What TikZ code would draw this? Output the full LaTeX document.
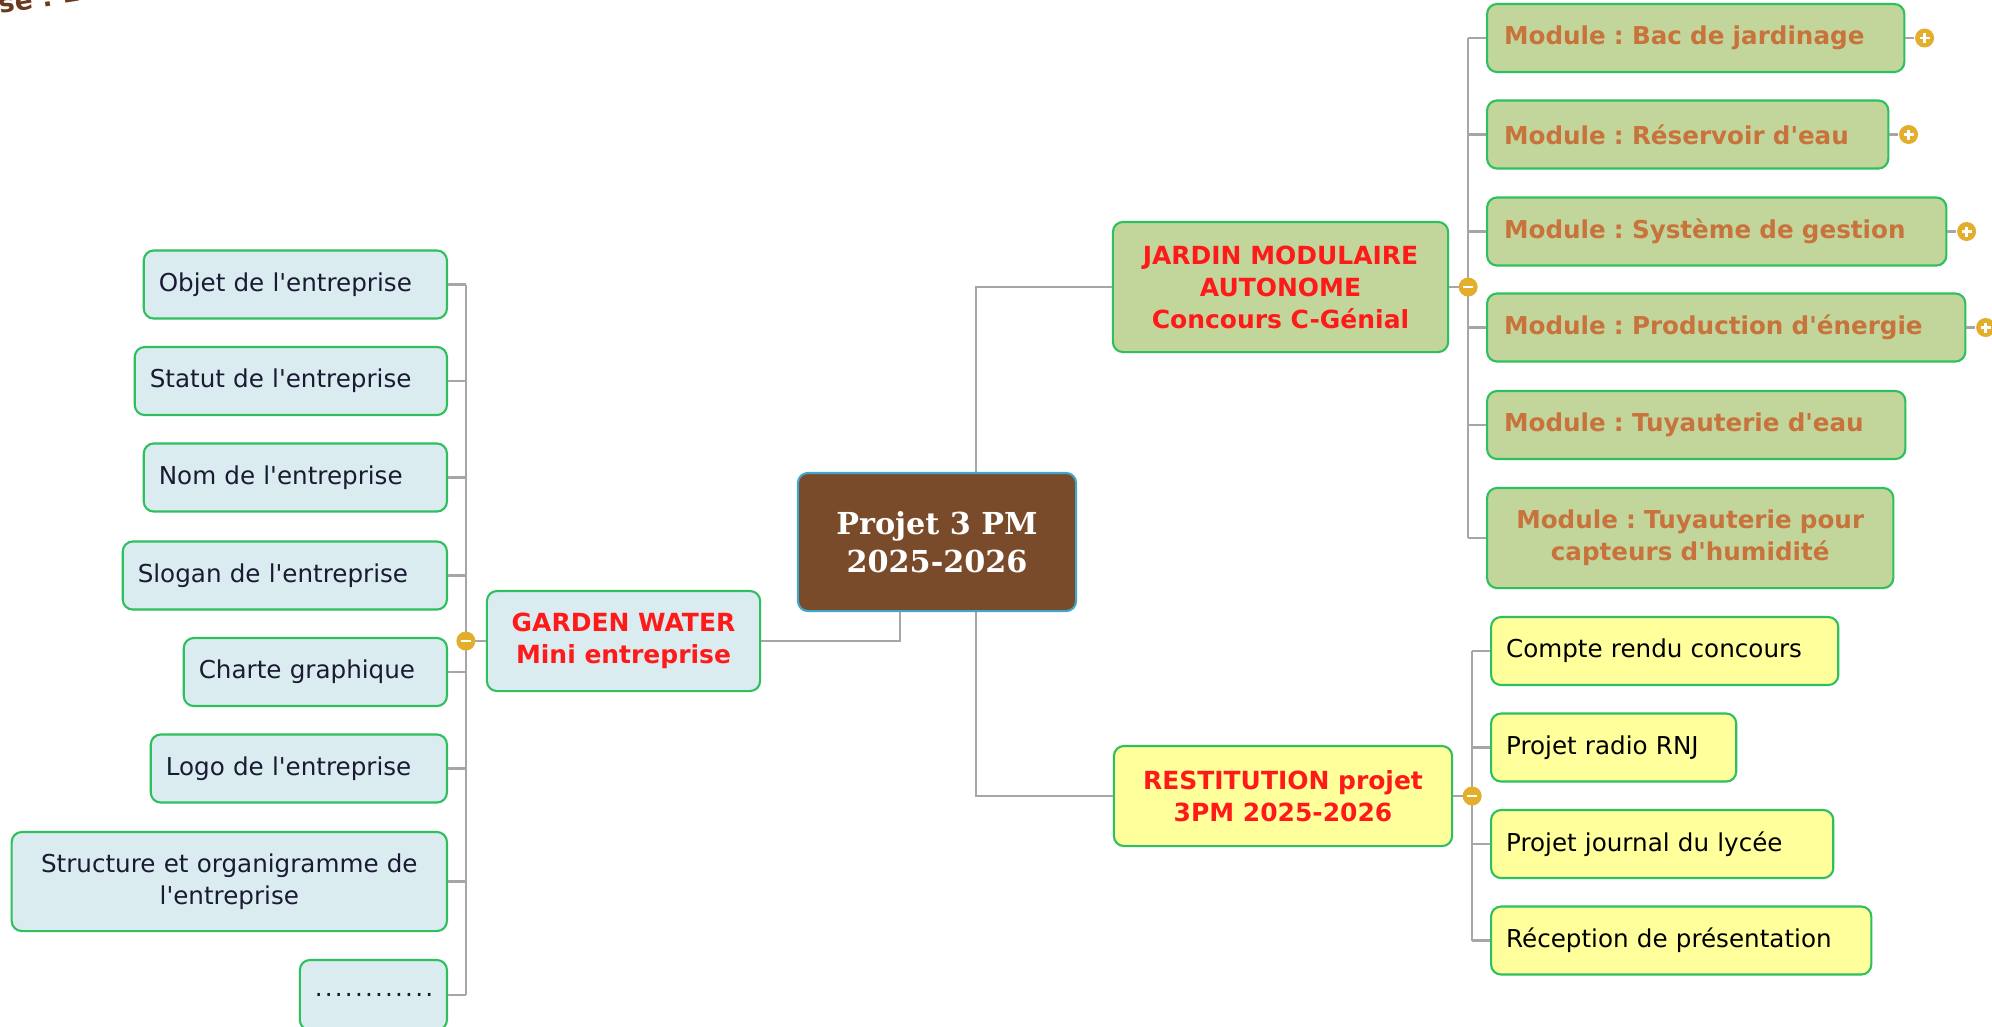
\documentclass[tikz,border=0pt]{standalone}
\usepackage{fontspec}
\setmainfont{DejaVu Sans}[Ligatures=TeXOff]
\newfontfamily\titlefont{DejaVu Serif}
\usetikzlibrary{positioning,calc}
\definecolor{brun}{HTML}{7A4B2A}
\definecolor{bordbleu}{HTML}{3FA6CC}
\definecolor{bordvert}{HTML}{2EBF5E}
\definecolor{fondbleu}{HTML}{DAECF0}
\definecolor{fondvert}{HTML}{C2D69C}
\definecolor{fondjaune}{HTML}{FFFF9C}
\definecolor{rouge}{HTML}{FF1A1A}
\definecolor{orangemod}{HTML}{C8733C}
\definecolor{trait}{HTML}{A6A6A6}
\definecolor{ocre}{HTML}{E2AE2C}
\definecolor{encre}{HTML}{1A1A33}
\definecolor{brunfonce}{HTML}{6B3A1E}
\frenchspacing

\begin{document}
\begin{tikzpicture}[x=0.01cm, y=-0.01cm,
  box/.style={draw=bordvert, line width=0.6pt, rounded corners=0.1cm, minimum height=0.68cm,
    inner xsep=0.15cm, inner ysep=0pt, font=\fontsize{7}{9.1}\selectfont, align=left},
  bleu/.style={box, fill=fondbleu, text=encre},
  jaune/.style={box, fill=fondjaune, text=black},
  module/.style={box, fill=fondvert, text=orangemod, inner xsep=0.17cm,
    font=\fontsize{7}{9.1}\selectfont\bfseries},
  titre/.style={box, text=rouge, align=center, inner xsep=0pt, font=\fontsize{7.1}{9.1}\selectfont\bfseries},
  link/.style={draw=trait, line width=0.6pt},
  toggle/.style={circle, fill=ocre, minimum size=0.19cm, inner sep=0pt},
  moins/.style={toggle, path picture={\draw[white, line width=0.7pt]
    ([xshift=-0.05cm]path picture bounding box.center) -- ([xshift=0.05cm]path picture bounding box.center);}},
  plusicon/.style={toggle, path picture={\draw[white, line width=0.7pt]
    ([xshift=-0.05cm]path picture bounding box.center) -- ([xshift=0.05cm]path picture bounding box.center)
    ([yshift=-0.05cm]path picture bounding box.center) -- ([yshift=0.05cm]path picture bounding box.center);}}]
  \useasboundingbox (0,0) rectangle (1992,1026);

  % texte coupé en haut à gauche
  \node[anchor=base west, rotate=9, inner sep=0pt, text=brunfonce, font=\fontsize{7.5}{9}\selectfont\bfseries] (coupe) at (0,14) {se ! L};

  % nœud central
  \node[draw=bordbleu, fill=brun, line width=0.6pt, rounded corners=0.1cm, minimum width=2.78cm, minimum height=1.38cm,
    align=center, text=white, font=\titlefont\fontsize{8.6}{10.8}\selectfont\bfseries] (centre) at (937,542) {Projet 3 PM\\2025-2026};

  % branches principales
  \node[titre, fill=fondbleu, minimum width=2.73cm, minimum height=1.00cm] (garden) at (623.5,641) {GARDEN WATER\\Mini entreprise};
  \node[titre, fill=fondvert, minimum width=3.35cm, minimum height=1.30cm] (jardin) at (1280.5,287) {JARDIN MODULAIRE\\AUTONOME\\Concours C-Génial};
  \node[titre, fill=fondjaune, minimum width=3.38cm, minimum height=1.00cm] (restit) at (1283,796) {RESTITUTION projet\\3PM 2025-2026};

  \draw[link] ($(centre.north)+(39,0)$) |- (jardin.west);
  \draw[link] ($(centre.south)+(39,0)$) |- (restit.west);
  \draw[link] ($(centre.south)+(-37,0)$) |- (garden.east);

  % mini entreprise
  \node[bleu, anchor=east, text width=2.73cm] (objet) at (448,284.5) {Objet de l'entreprise};
  \node[bleu, anchor=east, text width=2.82cm] (statut) at (448,381) {Statut de l'entreprise};
  \node[bleu, anchor=east, text width=2.73cm] (nom) at (448,477.5) {Nom de l'entreprise};
  \node[bleu, anchor=east, text width=2.94cm] (slogan) at (448,575.5) {Slogan de l'entreprise};
  \node[bleu, anchor=east, text width=2.33cm] (charte) at (448,672) {Charte graphique};
  \node[bleu, anchor=east, text width=2.66cm] (logo) at (448,768.5) {Logo de l'entreprise};
  \node[bleu, anchor=east, text width=4.05cm, minimum height=0.99cm, align=center] (struct) at (448,881.5) {Structure et organigramme de\\l'entreprise};
  \node[bleu, anchor=east, text width=1.17cm, minimum height=0.70cm] (suite) at (448,995) {\addfontfeatures{LetterSpace=9}............};

  \coordinate (gbus) at ($(garden.west)+(-20,0)$);
  \draw[link] (garden.west) -- (gbus);
  \draw[link] (gbus |- objet.east) -- (gbus |- suite.east);
  \foreach \n in {objet,statut,nom,slogan,charte,logo,struct,suite}
    \draw[link] (\n.east) -- (gbus |- \n.east);
  \node[moins] (gtog) at (gbus) {};

  % jardin modulaire
  \node[module, anchor=west, text width=3.83cm] (bac) at (1486,38) {Module : Bac de jardinage};
  \node[module, anchor=west, text width=3.67cm] (reserv) at (1486,134.5) {Module : Réservoir d'eau};
  \node[module, anchor=west, text width=4.25cm] (gestion) at (1486,231.5) {Module : Système de gestion};
  \node[module, anchor=west, text width=4.44cm] (energie) at (1486,327.5) {Module : Production d'énergie};
  \node[module, anchor=west, text width=3.84cm] (tuyau) at (1486,425) {Module : Tuyauterie d'eau};
  \node[module, anchor=west, text width=3.72cm, minimum height=1.00cm, align=center] (capteur) at (1486,538) {Module : Tuyauterie pour\\capteurs d'humidité};

  \coordinate (jbus) at ($(jardin.east)+(19,0)$);
  \draw[link] (jardin.east) -- (jbus);
  \draw[link] (jbus |- bac.west) -- (jbus |- capteur.west);
  \foreach \n in {bac,reserv,gestion,energie,tuyau,capteur}
    \draw[link] (\n.west) -- (jbus |- \n.west);
  \node[moins] (jtog) at (jbus) {};
  \foreach \n in {bac,reserv,gestion,energie} {
    \node[plusicon, right=0.09cm of \n.east] (\n-tog) {};
    \draw[link] (\n.east) -- (\n-tog);
  }

  % restitution
  \node[jaune, anchor=west, text width=3.17cm] (concours) at (1490,651) {Compte rendu concours};
  \node[jaune, anchor=west, text width=2.15cm] (radio) at (1490,747.5) {Projet radio RNJ};
  \node[jaune, anchor=west, text width=3.12cm] (journal) at (1490,844) {Projet journal du lycée};
  \node[jaune, anchor=west, text width=3.50cm] (reception) at (1490,940.5) {Réception de présentation};

  \coordinate (rbus) at ($(restit.east)+(19,0)$);
  \draw[link] (restit.east) -- (rbus);
  \draw[link] (rbus |- concours.west) -- (rbus |- reception.west);
  \foreach \n in {concours,radio,journal,reception}
    \draw[link] (\n.west) -- (rbus |- \n.west);
  \node[moins] (rtog) at (rbus) {};
\end{tikzpicture}
\end{document}
